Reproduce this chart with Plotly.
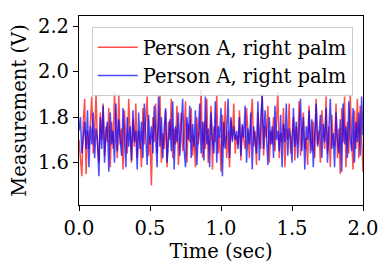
import plotly.graph_objects as go

time = [i / 100 for i in range(201)]

red_values = [
    1.70, 1.62, 1.54, 1.78, 1.88, 1.55, 1.74, 1.66, 1.80, 1.89,
    1.64, 1.72, 1.90, 1.68, 1.60, 1.82, 1.70, 1.86, 1.63, 1.76,
    1.69, 1.84, 1.58, 1.78, 1.66, 1.91, 1.72, 1.62, 1.90, 1.68,
    1.75, 1.57, 1.83, 1.70, 1.64, 1.88, 1.73, 1.60, 1.79, 1.67,
    1.86, 1.62, 1.74, 1.70, 1.58, 1.84, 1.68, 1.77, 1.89, 1.63,
    1.72, 1.50, 1.80, 1.69, 1.86, 1.64, 1.76, 1.90, 1.60, 1.73,
    1.66, 1.83, 1.58, 1.78, 1.70, 1.88, 1.62, 1.75, 1.68, 1.85,
    1.59, 1.74, 1.82, 1.65, 1.71, 1.87, 1.60, 1.77, 1.69, 1.84,
    1.63, 1.72, 1.58, 1.80, 1.68, 1.74, 1.92, 1.62, 1.78, 1.66,
    1.88, 1.60, 1.73, 1.85, 1.57, 1.76, 1.69, 1.90, 1.64, 1.72,
    1.56, 1.81, 1.67, 1.87, 1.62, 1.74, 1.58, 1.79, 1.70, 1.86,
    1.64, 1.72, 1.68, 1.83, 1.61, 1.76, 1.70, 1.66, 1.84, 1.73,
    1.62, 1.78, 1.88, 1.67, 1.74, 1.59, 1.82, 1.70, 1.66, 1.90,
    1.63, 1.76, 1.71, 1.85, 1.60, 1.74, 1.68, 1.80, 1.65, 1.77,
    1.91, 1.62, 1.73, 1.69, 1.84, 1.58, 1.75, 1.70, 1.86, 1.64,
    1.72, 1.80, 1.61, 1.76, 1.68, 1.87, 1.63, 1.74, 1.82, 1.66,
    1.71, 1.59, 1.85, 1.70, 1.65, 1.78, 1.62, 1.88, 1.68, 1.74,
    1.60, 1.83, 1.72, 1.66, 1.89, 1.64, 1.76, 1.58, 1.81, 1.70,
    1.67, 1.86, 1.62, 1.75, 1.55, 1.84, 1.69, 1.89, 1.58, 1.78,
    1.64, 1.90, 1.71, 1.57, 1.83, 1.66, 1.88, 1.62, 1.85, 1.73,
    1.56,
]

blue_values = [
    1.74, 1.80, 1.64, 1.70, 1.78, 1.66, 1.83, 1.58, 1.76, 1.68,
    1.82, 1.62, 1.75, 1.70, 1.54, 1.80, 1.66, 1.85, 1.60, 1.73,
    1.78, 1.56, 1.82, 1.68, 1.74, 1.60, 1.86, 1.65, 1.79, 1.70,
    1.63, 1.84, 1.72, 1.58, 1.80, 1.67, 1.76, 1.61, 1.83, 1.69,
    1.74, 1.57, 1.82, 1.66, 1.78, 1.62, 1.86, 1.70, 1.59, 1.81,
    1.68, 1.76, 1.64, 1.85, 1.72, 1.58, 1.89, 1.67, 1.80, 1.62,
    1.75, 1.84, 1.60, 1.71, 1.79, 1.65, 1.87, 1.57, 1.76, 1.69,
    1.82, 1.63, 1.74, 1.88, 1.66, 1.58, 1.80, 1.70, 1.85, 1.62,
    1.77, 1.67, 1.83, 1.59, 1.72, 1.86, 1.64, 1.78, 1.61, 1.89,
    1.68, 1.75, 1.58, 1.82, 1.70, 1.64, 1.87, 1.60, 1.76, 1.71,
    1.84, 1.54, 1.78, 1.66, 1.73, 1.88, 1.62, 1.80, 1.69, 1.76,
    1.70, 1.74, 1.66, 1.80, 1.63, 1.77, 1.71, 1.85, 1.60, 1.75,
    1.68, 1.82, 1.57, 1.76, 1.70, 1.64, 1.87, 1.61, 1.79, 1.90,
    1.66, 1.83, 1.72, 1.59, 1.80, 1.68, 1.76, 1.62, 1.85, 1.70,
    1.74, 1.65, 1.81, 1.58, 1.77, 1.69, 1.86, 1.63, 1.75, 1.71,
    1.60, 1.84, 1.67, 1.78, 1.62, 1.73, 1.88, 1.65, 1.80, 1.57,
    1.76, 1.70, 1.83, 1.64, 1.79, 1.58, 1.74, 1.86, 1.67, 1.72,
    1.81, 1.62, 1.77, 1.69, 1.84, 1.60, 1.75, 1.88, 1.66, 1.73,
    1.58, 1.82, 1.70, 1.64, 1.79, 1.56, 1.86, 1.68, 1.76, 1.62,
    1.87, 1.71, 1.65, 1.84, 1.60, 1.78, 1.69, 1.82, 1.63, 1.89,
    1.72,
]

series_names = ["Person A, right palm", "Person A, right palm"]
x_ticks = [0.0, 0.5, 1.0, 1.5, 2.0]
x_tick_labels = ["0.0", "0.5", "1.0", "1.5", "2.0"]
y_ticks = [1.6, 1.8, 2.0, 2.2]
y_tick_labels = ["1.6", "1.8", "2.0", "2.2"]

FONT = "DejaVu Serif"
FS = 19.5

fig = go.Figure()
fig.add_trace(go.Scatter(x=time, y=red_values, mode="lines", name=series_names[0],
                         line=dict(color="rgba(255,0,0,0.7)", width=1.5)))
fig.add_trace(go.Scatter(x=time, y=blue_values, mode="lines", name=series_names[1],
                         line=dict(color="rgba(0,0,255,0.7)", width=1.5)))

axis_common = dict(showgrid=False, zeroline=False, showline=True, linecolor="black",
                   linewidth=1.2, mirror=True, ticks="outside", ticklen=5, tickwidth=1.2,
                   tickcolor="black", automargin=False,
                   tickfont=dict(family=FONT, size=FS, color="black"))

# page body adds ~8px offset; margins compensate
fig.update_layout(
    width=390, height=273,
    margin=dict(l=71, r=35, t=8, b=76),
    paper_bgcolor="white", plot_bgcolor="white",
    font=dict(family=FONT, size=FS, color="black"),
    xaxis=dict(range=[0, 2], tickvals=x_ticks, ticktext=x_tick_labels,
               title=dict(text="Time (sec)", font=dict(family=FONT, size=FS), standoff=5),
               **axis_common),
    yaxis=dict(range=[1.414, 2.244], tickvals=y_ticks, ticktext=y_tick_labels,
               title=dict(text="Measurement (V)", font=dict(family=FONT, size=FS), standoff=6),
               **axis_common),
    legend=dict(x=0.045, y=0.942, xanchor="left", yanchor="top",
                bgcolor="rgba(255,255,255,0.8)", bordercolor="#cccccc", borderwidth=1,
                font=dict(family=FONT, size=FS), tracegroupgap=0, itemwidth=40),
    showlegend=True,
)

fig.write_html("out.html")
